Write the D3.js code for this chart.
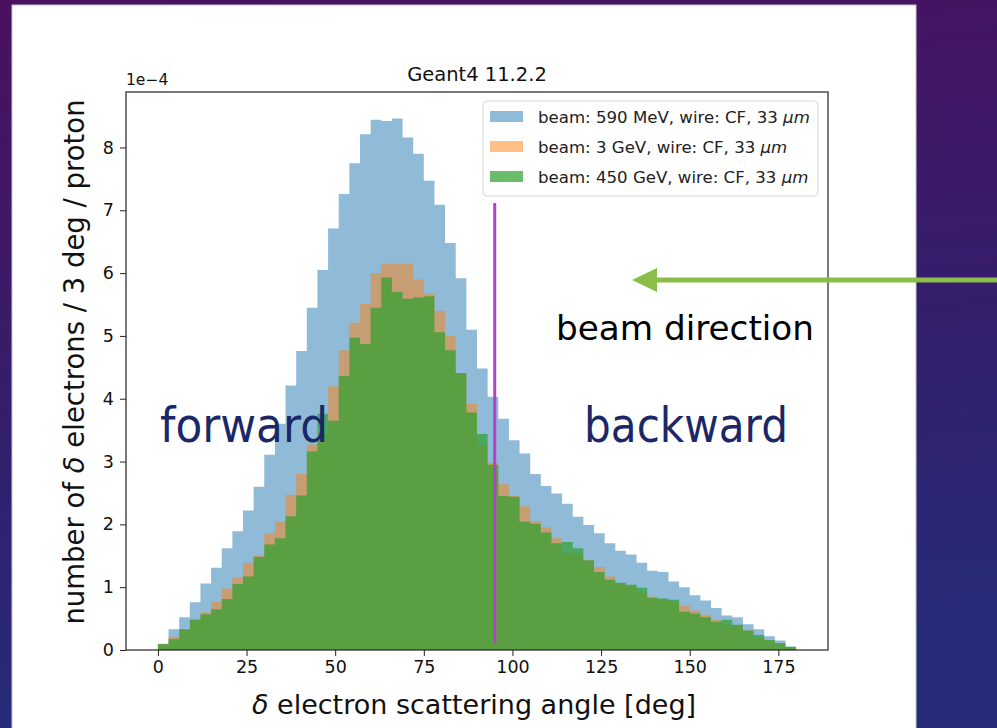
<!DOCTYPE html>
<html>
<head>
<meta charset="utf-8">
<script src="https://cdn.jsdelivr.net/npm/d3@7"></script>
<style>
  body { margin: 0; padding: 0; overflow: hidden; background: #2a1f66; }
  svg { display: block; }
  text { font-family: "DejaVu Sans", sans-serif; }
</style>
</head>
<body>
<script>
// histogram: 60 bins of 3 deg, values in units of 1e-4 electrons / 3 deg / proton
const binWidth = 3
const seriesNames = ["beam: 590 MeV, wire: CF, 33 ", "beam: 3 GeV, wire: CF, 33 ", "beam: 450 GeV, wire: CF, 33 "]
const seriesColors = ["#1f77b4", "#ff7f0e", "#2ca02c"]
const seriesAlpha = [0.5, 0.5, 0.7]

const beam590MeV = [0.10, 0.33, 0.52, 0.76, 1.06, 1.31, 1.62, 1.89, 2.22, 2.60,
  3.11, 3.60, 4.21, 4.76, 5.45, 6.05, 6.71, 7.26, 7.75, 8.21,
  8.44, 8.42, 8.46, 8.16, 7.90, 7.47, 7.09, 6.48, 5.92, 5.10,
  4.48, 4.03, 3.68, 3.34, 3.13, 2.80, 2.61, 2.49, 2.33, 2.12,
  1.99, 1.86, 1.70, 1.58, 1.52, 1.39, 1.26, 1.24, 1.09, 1.00,
  0.87, 0.79, 0.67, 0.55, 0.52, 0.41, 0.33, 0.22, 0.15, 0.05]

const beam3GeV = [0.09, 0.21, 0.33, 0.49, 0.60, 0.77, 0.98, 1.15, 1.39, 1.51,
  1.86, 2.04, 2.47, 2.80, 3.27, 3.43, 4.20, 4.77, 5.21, 5.51,
  6.00, 6.15, 6.15, 6.15, 5.90, 5.67, 5.40, 5.00, 4.41, 3.92,
  3.26, 2.98, 2.64, 2.45, 2.29, 2.05, 1.95, 1.78, 1.54, 1.52,
  1.43, 1.32, 1.17, 1.06, 1.02, 0.91, 0.85, 0.80, 0.78, 0.70,
  0.63, 0.56, 0.48, 0.40, 0.39, 0.31, 0.20, 0.15, 0.09, 0.04]

const beam450GeV = [0.09, 0.17, 0.33, 0.48, 0.57, 0.65, 0.81, 1.05, 1.17, 1.48,
  1.68, 1.78, 2.13, 2.46, 3.16, 3.76, 3.65, 4.36, 4.97, 4.87,
  5.45, 5.93, 5.70, 5.59, 5.61, 5.63, 5.06, 4.77, 4.41, 3.78,
  3.44, 2.95, 2.45, 2.44, 2.04, 2.01, 1.87, 1.70, 1.72, 1.62,
  1.43, 1.24, 1.12, 1.07, 1.04, 0.99, 0.83, 0.82, 0.80, 0.61,
  0.58, 0.52, 0.45, 0.48, 0.40, 0.31, 0.24, 0.16, 0.11, 0.05]

const xTicks = [0, 25, 50, 75, 100, 125, 150, 175]
const yTicks = [0, 1, 2, 3, 4, 5, 6, 7, 8]
const splitAngle = 95   // drawn divider, deg

const W = 997, H = 728
const svg = d3.select("body").append("svg").attr("width", W).attr("height", H)

// slide background
const defs = svg.append("defs")
const grad = defs.append("linearGradient").attr("id", "bg")
    .attr("x1", 0).attr("y1", 0).attr("x2", 0.15).attr("y2", 1)
grad.append("stop").attr("offset", "0%").attr("stop-color", "#4a1160")
grad.append("stop").attr("offset", "55%").attr("stop-color", "#341e6c")
grad.append("stop").attr("offset", "100%").attr("stop-color", "#262c7a")
svg.append("rect").attr("width", W).attr("height", H).attr("fill", "url(#bg)")

// white figure panel
svg.append("rect").attr("x", 12).attr("y", 5).attr("width", 904).attr("height", H)
    .attr("fill", "white").attr("stroke", "#c8c8c8").attr("stroke-width", 1)

const mLeft = 126, mRight = 828, mTop = 92, mBottom = 650
const all = beam590MeV.concat(beam3GeV, beam450GeV)
const ymax = d3.max(all) * 1.05
const x = d3.scaleLinear().domain([-9, 189]).range([mLeft, mRight])
const y = d3.scaleLinear().domain([0, ymax]).range([mBottom, mTop])

const plot = svg.append("g")
const area = d3.area()
    .x(d => x(d.a))
    .y0(y(0))
    .y1(d => y(d.v))
    .curve(d3.curveStepAfter)

const series = [beam590MeV, beam3GeV, beam450GeV]
series.forEach(function(vals, k){
    var pts = vals.map((v, i) => ({a: i*binWidth, v: v}))
    pts.push({a: vals.length*binWidth, v: vals[vals.length-1]})
    plot.append("path")
        .attr("d", area(pts))
        .attr("fill", seriesColors[k])
        .attr("fill-opacity", seriesAlpha[k])
})

// axes
const xAxis = d3.axisBottom(x).tickValues(xTicks).tickSize(6).tickPadding(5)
const yAxis = d3.axisLeft(y).tickValues(yTicks).tickSize(6).tickPadding(6)
const gx = svg.append("g").attr("transform", `translate(0,${mBottom})`).call(xAxis)
const gy = svg.append("g").attr("transform", `translate(${mLeft},0)`).call(yAxis)
gx.select(".domain").remove()
gy.select(".domain").remove()
for (const g of [gx, gy]){
    g.selectAll("text").attr("font-family", "DejaVu Sans").attr("font-size", 17.5).attr("fill", "#111")
    g.selectAll("line").attr("stroke", "#222").attr("stroke-width", 1)
}
svg.append("rect").attr("x", mLeft).attr("y", mTop)
    .attr("width", mRight-mLeft).attr("height", mBottom-mTop)
    .attr("fill", "none").attr("stroke", "#222").attr("stroke-width", 1.2)

// labels
svg.append("text").attr("x", (mLeft+mRight)/2).attr("y", 81)
    .attr("text-anchor", "middle").attr("font-size", 19.5).attr("fill", "#111")
    .text("Geant4 11.2.2")
svg.append("text").attr("x", mLeft).attr("y", 85)
    .attr("font-size", 15.5).attr("fill", "#111").text("1e\u22124")

const xl = svg.append("text").attr("x", 474).attr("y", 714)
    .attr("text-anchor", "middle").attr("font-size", 27).attr("fill", "#111")
xl.append("tspan").attr("font-style", "italic").text("\u03b4")
xl.append("tspan").text(" electron scattering angle [deg]")

const yl = svg.append("text")
    .attr("transform", "translate(84,362) rotate(-90)")
    .attr("text-anchor", "middle").attr("font-size", 27.5).attr("fill", "#111")
yl.append("tspan").text("number of ")
yl.append("tspan").attr("font-style", "italic").text("\u03b4")
yl.append("tspan").text(" electrons / 3 deg / proton")

// legend
const lg = svg.append("g")
lg.append("rect").attr("x", 483).attr("y", 101).attr("width", 335).attr("height", 95)
    .attr("rx", 4).attr("fill", "white").attr("fill-opacity", 0.8)
    .attr("stroke", "#d6d6d6").attr("stroke-width", 1)
seriesNames.forEach(function(name, k){
    var cy = 117 + k*30
    lg.append("rect").attr("x", 490).attr("y", cy-6).attr("width", 33).attr("height", 11)
        .attr("fill", seriesColors[k]).attr("fill-opacity", seriesAlpha[k])
    var t = lg.append("text").attr("x", 538).attr("y", cy+6)
        .attr("font-size", 16.6).attr("fill", "#222")
    t.append("tspan").text(name)
    t.append("tspan").attr("font-style", "italic").text("\u03bcm")
})

// slide annotations
svg.append("line")
    .attr("x1", x(splitAngle)).attr("x2", x(splitAngle))
    .attr("y1", 203).attr("y2", 643)
    .attr("stroke", "#b243c9").attr("stroke-width", 3)

svg.append("line").attr("x1", 1000).attr("x2", 650).attr("y1", 280).attr("y2", 280)
    .attr("stroke", "#8bbd4b").attr("stroke-width", 5)
svg.append("path").attr("d", "M632,280 L657,268 L657,292 Z").attr("fill", "#8bbd4b")

const slideFont = "Lato, 'Open Sans', sans-serif"
svg.append("text").attr("x", 556).attr("y", 340).attr("font-family", slideFont)
    .attr("font-size", 34).attr("fill", "#000")
    .attr("textLength", 258).attr("lengthAdjust", "spacingAndGlyphs")
    .text("beam direction")
svg.append("text").attr("x", 160).attr("y", 442).attr("font-family", slideFont)
    .attr("font-size", 48).attr("fill", "#1a2868")
    .attr("textLength", 168).attr("lengthAdjust", "spacingAndGlyphs")
    .text("forward")
svg.append("text").attr("x", 584).attr("y", 442).attr("font-family", slideFont)
    .attr("font-size", 48).attr("fill", "#1a2868")
    .attr("textLength", 204).attr("lengthAdjust", "spacingAndGlyphs")
    .text("backward")
</script>
</body>
</html>
